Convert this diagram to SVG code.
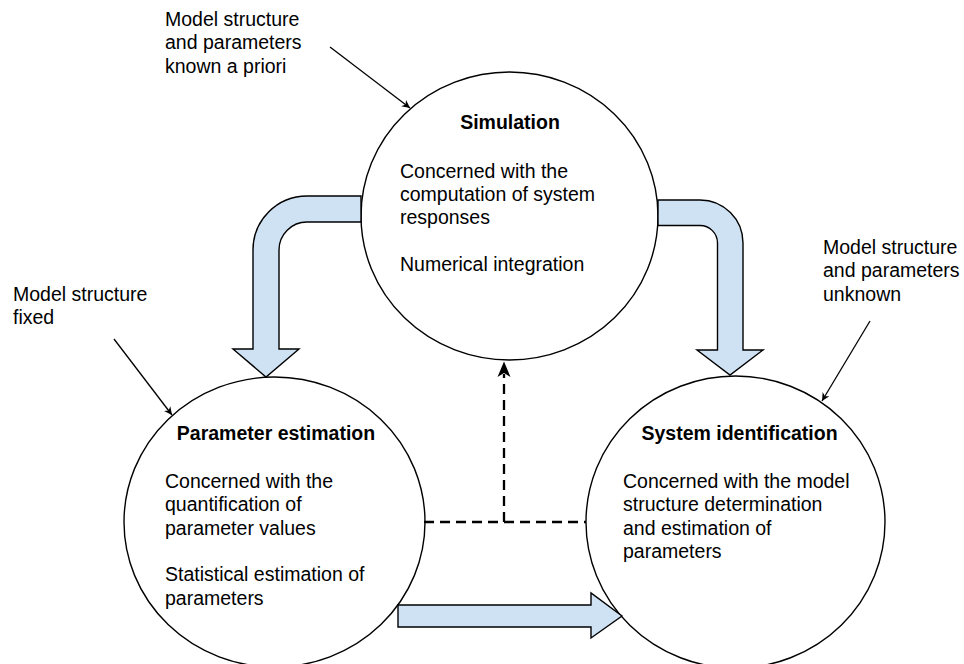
<svg xmlns="http://www.w3.org/2000/svg" width="964" height="664" viewBox="0 0 964 664">
<defs>
<style>
.node{fill:#ffffff;stroke:#000000;stroke-width:1.4}
.t{font-family:"Liberation Sans",Arial,sans-serif;font-size:19.5px;fill:#000000}
.b{font-weight:bold;text-anchor:middle}
.block{fill:#cfe2f3;stroke:#000000;stroke-width:1.4;stroke-linejoin:miter}
.note{stroke:#000000;stroke-width:1.3;fill:none}
.dash{stroke:#000000;stroke-width:2.3;fill:none;stroke-dasharray:10 6}
</style>
<marker id="ah" viewBox="0 0 10 10" refX="10" refY="5" markerWidth="8" markerHeight="8" markerUnits="userSpaceOnUse" orient="auto">
<path d="M0,0 L10,5 L0,10 L3,5 Z" fill="#000000"/>
</marker>
</defs>
<rect width="964" height="664" fill="#ffffff"/>

<g id="simulation">
<ellipse class="node" cx="509.5" cy="216" rx="148.5" ry="144"/>
<text class="t b" x="510" y="129">Simulation</text>
<text class="t" x="400" y="177.5">Concerned with the</text>
<text class="t" x="400" y="200.9">computation of system</text>
<text class="t" x="400" y="224.3">responses</text>
<text class="t" x="400" y="271.1">Numerical integration</text>
</g>

<g id="parameter-estimation">
<ellipse class="node" cx="274.5" cy="522" rx="150.5" ry="145"/>
<text class="t b" x="276" y="440">Parameter estimation</text>
<text class="t" x="165" y="487.7">Concerned with the</text>
<text class="t" x="165" y="511.1">quantification of</text>
<text class="t" x="165" y="534.5">parameter values</text>
<text class="t" x="165" y="581.3">Statistical estimation of</text>
<text class="t" x="165" y="604.7">parameters</text>
</g>

<g id="system-identification">
<ellipse class="node" cx="735.5" cy="522" rx="149.5" ry="146"/>
<text class="t b" x="739.5" y="440">System identification</text>
<text class="t" x="623" y="487.7">Concerned with the model</text>
<text class="t" x="623" y="511.1">structure determination</text>
<text class="t" x="623" y="534.5">and estimation of</text>
<text class="t" x="623" y="557.9">parameters</text>
</g>

<g id="note-top">
<text class="t" x="165" y="26">Model structure</text>
<text class="t" x="165" y="49.4">and parameters</text>
<text class="t" x="165" y="72.8">known a priori</text>
</g>
<g id="note-left">
<text class="t" x="13" y="300.7">Model structure</text>
<text class="t" x="13" y="324.1">fixed</text>
</g>
<g id="note-right">
<text class="t" x="823" y="254">Model structure</text>
<text class="t" x="823" y="277.4">and parameters</text>
<text class="t" x="823" y="300.8">unknown</text>
</g>

<g id="connectors">
<path class="block" d="M361,196 L307,196 A54,54 0 0 0 253,250 L253,349 L233,349 L266,377 L299,349 L279,349 L279,250 A28,28 0 0 1 307,222 L361,222 Z"/>
<path class="block" d="M658,200 L700,200 A43,43 0 0 1 743,243 L743,350 L763,350 L730,375 L697,350 L717.5,350 L717.5,243 A17.5,17.5 0 0 0 700,225.5 L658,225.5 Z"/>
<path class="block" d="M398,605 L591,605 L591,593 L622,616 L591,638 L591,627 L398,627 Z"/>
<line class="dash" x1="424" y1="522" x2="586" y2="522"/>
<line class="dash" x1="504" y1="522" x2="504" y2="374"/>
<path d="M504,361.5 L510.5,377 L504,373 L497.5,377 Z" fill="#000000"/>
<line class="note" x1="330" y1="47" x2="410" y2="108" marker-end="url(#ah)"/>
<line class="note" x1="114" y1="339" x2="172" y2="415" marker-end="url(#ah)"/>
<line class="note" x1="870" y1="321" x2="822" y2="401" marker-end="url(#ah)"/>
</g>
</svg>
